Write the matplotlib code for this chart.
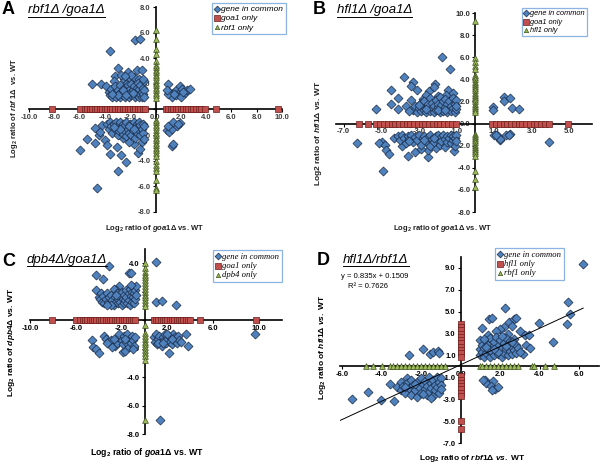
import matplotlib
matplotlib.use('Agg')
import matplotlib.pyplot as plt
from matplotlib.lines import Line2D
from matplotlib.ticker import FormatStrFormatter

plt.rcParams['font.family'] = ['Liberation Sans', 'DejaVu Sans']
plt.rcParams['mathtext.fontset'] = 'custom'
plt.rcParams['mathtext.rm'] = 'Liberation Sans:bold'
plt.rcParams['mathtext.it'] = 'Liberation Sans:italic:bold'
plt.rcParams['mathtext.bf'] = 'Liberation Sans:bold'

# ---- Panel A: rbf1 / goa1 (x = goa1, y = rbf1) ----
a_common = [
    (-5.0, 2.0), (-4.3, 2.0), (-3.9, 1.8), (-3.6, 4.6), (-3.0, 3.2), (-3.2, 2.6), (-3.3, 2.2),
    (-1.6, 5.4), (-1.2, 5.5), (-1.5, 3.1), (-1.1, 3.1), (-2.15, 2.95), (-2.5, 2.4), (-2.0, 2.3),
    (-1.7, 2.5), (-2.3, 2.0), (-1.9, 2.7), (-1.3, 2.4), (-2.7, 2.7), (-2.4, 2.6),
    (-3.7, 1.4), (-3.6, 1.1), (-3.5, 1.6), (-3.4, 1.0), (-3.3, 1.3), (-3.2, 1.8), (-3.1, 1.0),
    (-3.0, 1.5), (-2.9, 1.2), (-2.8, 1.9), (-2.8, 1.0), (-2.7, 1.4), (-2.6, 1.1), (-2.5, 1.7),
    (-2.5, 1.3), (-2.4, 1.0), (-2.3, 1.5), (-2.2, 1.2), (-2.2, 1.9), (-2.1, 1.0), (-2.0, 1.6),
    (-2.0, 1.3), (-1.9, 1.1), (-1.9, 2.0), (-1.8, 1.5), (-1.7, 1.2), (-1.7, 1.8), (-1.6, 1.0),
    (-1.6, 1.4), (-1.5, 1.7), (-1.5, 1.1), (-1.4, 2.1), (-1.4, 1.3), (-1.3, 1.0), (-1.3, 1.6),
    (-1.2, 1.2), (-1.2, 1.9), (-1.1, 1.4), (-1.1, 1.0), (-1.0, 1.7), (-1.0, 1.2), (-0.9, 1.5),
    (-0.9, 1.0), (-0.9, 2.2), (-3.0, 1.1), (-2.6, 1.5), (-2.3, 1.1), (-1.8, 1.3), (-3.4, 1.2),
    (-1.0, 2.4),
    (1.0, 2.0), (1.1, 1.4), (1.2, 1.1), (1.4, 1.3), (1.6, 1.5), (1.8, 1.2), (1.9, 1.8), (2.1, 1.6),
    (2.3, 1.3), (2.5, 1.5), (2.7, 1.6), (1.3, 1.0), (1.6, 1.1), (2.0, 1.0), (2.2, 1.4), (1.0, 1.2),
    (1.5, 1.2), (0.9, 1.5),
    (-6.0, -3.2), (-4.65, -6.1), (-3.0, -4.8), (-2.35, -4.1), (-3.6, -3.5), (-2.7, -3.55),
    (-5.45, -2.3), (-4.8, -2.6), (-4.5, -2.0), (-4.8, -1.45), (-4.4, -1.75), (-4.0, -2.4),
    (-3.85, -2.8), (-3.05, -2.9), (-1.35, -3.4), (-1.25, -3.1), (-1.1, -2.5), (-1.7, -2.7),
    (-4.2, -1.2), (-2.1, -2.5), (-2.6, -2.2),
    (-3.8, -1.1), (-3.7, -1.5), (-3.6, -1.0), (-3.5, -1.3), (-3.4, -1.8), (-3.3, -1.1),
    (-3.2, -1.5), (-3.1, -1.0), (-3.0, -2.0), (-3.0, -1.3), (-2.9, -1.7), (-2.8, -1.0),
    (-2.7, -1.4), (-2.6, -1.9), (-2.6, -1.1), (-2.5, -1.6), (-2.4, -1.2), (-2.3, -2.1),
    (-2.3, -1.0), (-2.2, -1.5), (-2.1, -1.8), (-2.0, -1.1), (-2.0, -1.4), (-1.9, -2.0),
    (-1.8, -1.2), (-1.8, -1.6), (-1.7, -1.0), (-1.6, -1.4), (-1.6, -2.2), (-1.5, -1.1),
    (-1.5, -1.8), (-1.4, -1.3), (-1.3, -1.6), (-1.3, -1.0), (-1.2, -2.0), (-1.2, -1.2),
    (-1.1, -1.5), (-1.0, -1.1), (-1.0, -1.8), (-0.9, -1.3), (-0.9, -2.3), (-2.8, -1.5),
    (-3.3, -1.4), (-2.1, -1.3), (-1.7, -1.5),
    (0.9, -1.6), (1.2, -1.35), (1.5, -1.2), (1.95, -1.05), (1.1, -1.75), (1.3, -1.5), (1.7, -1.3),
    (1.0, -1.3), (1.4, -1.0), (1.3, -2.85), (1.4, -2.7), (1.8, -1.1),
]
a_goa1_only = [-8.2, -6.0, -5.6, -5.4, -5.2, -5.0, -4.8, -4.6, -4.4, -4.2, -4.0, -3.8, -3.6,
               -3.4, -3.2, -3.0, -2.8, -2.6, -2.4, -2.2, -2.0, -1.8, -1.6, -1.4, -1.2, -1.0,
               -0.8, 0.8, 1.0, 1.2, 1.4, 1.6, 1.8, 2.0, 2.2, 2.4, 2.6, 2.8, 3.0, 3.2, 3.4, 3.6,
               3.9, 4.8, 9.7]
a_rbf1_only = [6.2, 5.5, 4.7, 4.3, 3.8, 3.5, 3.3, 3.1, 2.9, 2.7, 2.5, 2.3, 2.1, 1.9, 1.7, 1.5,
               1.3, 1.1, 0.9, -0.8, -1.0, -1.2, -1.4, -1.6, -1.8, -2.0, -2.2, -2.4, -2.6, -2.8,
               -3.0, -3.2, -3.4, -3.6, -4.0, -4.3, -4.6, -4.8, -5.5, -6.1, -6.3]

# ---- Panel B: hfl1 / goa1 (x = goa1, y = hfl1) ----
b_common = [
    (-1.78, 6.0), (-1.36, 4.9), (-3.8, 4.25), (-3.3, 3.8), (-3.4, 3.4), (-4.5, 3.0), (-3.1, 3.0),
    (-4.5, 1.8), (-4.1, 2.3), (-4.1, 1.3), (-5.25, 1.3), (-3.7, 1.6), (-3.4, 2.1), (-2.15, 3.6),
    (-2.45, 2.9), (-1.45, 3.05), (-1.55, 2.6), (-1.2, 2.75), (-2.2, 3.3), (-2.0, 2.5), (-2.8, 2.2),
    (-2.6, 2.6),
    (-3.3, 1.2), (-3.2, 1.6), (-3.1, 1.0), (-3.0, 1.4), (-2.9, 1.9), (-2.9, 1.1), (-2.8, 1.6),
    (-2.7, 1.2), (-2.7, 2.0), (-2.6, 1.0), (-2.5, 1.5), (-2.5, 1.8), (-2.4, 1.1), (-2.4, 2.3),
    (-2.3, 1.4), (-2.3, 1.9), (-2.2, 1.0), (-2.2, 1.6), (-2.1, 2.1), (-2.1, 1.2), (-2.0, 1.5),
    (-2.0, 1.8), (-1.9, 1.0), (-1.9, 2.4), (-1.8, 1.3), (-1.8, 1.7), (-1.7, 2.0), (-1.7, 1.1),
    (-1.6, 1.5), (-1.6, 2.2), (-1.5, 1.0), (-1.5, 1.8), (-1.4, 1.3), (-1.4, 2.0), (-1.3, 1.6),
    (-1.3, 1.1), (-1.2, 2.3), (-1.2, 1.4), (-1.1, 1.0), (-1.1, 1.8), (-1.0, 1.3), (-1.0, 2.1),
    (-1.0, 1.6), (-3.5, 1.1), (-2.6, 1.3), (-2.0, 1.2), (-1.6, 1.2), (-3.0, 1.7),
    (0.94, 1.47), (0.94, 1.2), (1.54, 2.4), (1.54, 2.0), (1.83, 2.35), (1.96, 1.37), (2.3, 1.3),
    (-6.26, -1.8), (-4.96, -1.65), (-5.1, -1.8), (-4.8, -1.9), (-4.75, -2.35), (-4.6, -2.75),
    (-4.9, -4.3), (-3.6, -2.95), (-2.5, -3.0), (-2.5, -2.4), (-3.2, -2.6), (-1.15, -2.45),
    (-4.3, -1.3), (-3.9, -2.0), (-2.9, -2.3), (-2.1, -2.2),
    (-4.1, -1.1), (-4.0, -1.5), (-3.9, -1.0), (-3.8, -1.3), (-3.7, -1.8), (-3.6, -1.1),
    (-3.5, -1.4), (-3.4, -1.0), (-3.3, -1.7), (-3.2, -1.2), (-3.1, -1.5), (-3.0, -1.0),
    (-2.9, -1.9), (-2.8, -1.3), (-2.7, -1.1), (-2.6, -1.6), (-2.5, -1.2), (-2.4, -2.0),
    (-2.4, -1.0), (-2.3, -1.4), (-2.2, -1.7), (-2.1, -1.1), (-2.0, -1.5), (-2.0, -1.0),
    (-1.9, -1.9), (-1.8, -1.2), (-1.8, -1.6), (-1.7, -1.0), (-1.6, -1.4), (-1.6, -2.1),
    (-1.5, -1.1), (-1.5, -1.7), (-1.4, -1.3), (-1.3, -1.0), (-1.3, -1.8), (-1.2, -1.5),
    (-1.2, -1.1), (-1.1, -1.3), (-1.1, -2.0), (-1.0, -1.0), (-1.0, -1.6), (-2.7, -1.5),
    (-3.5, -1.6), (-2.2, -1.3),
    (0.97, -1.0), (1.2, -1.15), (1.3, -1.45), (1.63, -1.0), (1.87, -0.95), (3.9, -1.7),
    (1.33, -1.43), (1.8, -1.0), (1.1, -1.0),
]
b_goa1_only = [-6.2, -5.7, -5.25, -5.05, -4.85, -4.65, -4.45, -4.25, -4.05, -3.85, -3.65, -3.45,
               -3.25, -3.05, -2.85, -2.65, -2.45, -2.25, -2.05, -1.85, -1.65, -1.45, -1.25,
               -1.05, 0.9, 1.1, 1.3, 1.5, 1.7, 1.9, 2.1, 2.3, 2.5, 2.7, 2.9, 3.1, 3.3, 3.5, 3.7,
               3.9, 4.95]
b_hfl1_only = [9.3, 5.9, 5.6, 5.2, 4.9, 4.4, 4.2, 4.0, 3.8, 3.6, 3.4, 3.2, 3.0, 2.8, 2.6, 2.4,
               2.2, 2.0, 1.8, 1.6, 1.4, 1.2, 1.0, -0.9, -1.1, -1.3, -1.5, -1.7, -1.9, -2.1, -2.3,
               -2.5, -2.7, -2.9, -4.3, -5.0, -5.7]

# ---- Panel C: dpb4 / goa1 (x = goa1, y = dpb4) ----
c_common = [
    (-3.1, 3.8), (-4.2, 3.2), (-3.6, 2.9), (-1.4, 3.3), (-1.2, 3.3), (-4.2, 2.1), (-4.0, 1.6),
    (-3.8, 1.9), (-2.2, 2.4), (-2.5, 2.1),
    (1.0, 4.1), (0.98, 1.3), (1.55, 1.37), (2.75, 1.04),
    (-3.9, 1.5), (-3.7, 1.3), (-3.6, 1.7), (-3.5, 1.2), (-3.4, 1.5), (-3.3, 1.9), (-3.2, 1.3),
    (-3.1, 1.6), (-3.0, 1.2), (-2.9, 1.8), (-2.8, 1.4), (-2.7, 2.2), (-2.7, 1.1), (-2.6, 1.6),
    (-2.5, 1.3), (-2.4, 1.9), (-2.3, 1.2), (-2.3, 1.5), (-2.2, 1.7), (-2.1, 1.3), (-2.0, 2.0),
    (-2.0, 1.1), (-1.9, 1.5), (-1.8, 1.8), (-1.8, 1.2), (-1.7, 1.4), (-1.6, 2.1), (-1.6, 1.6),
    (-1.5, 1.2), (-1.4, 1.9), (-1.4, 1.4), (-1.3, 2.2), (-1.3, 1.1), (-1.2, 1.7), (-1.1, 2.0),
    (-1.1, 1.3), (-1.0, 2.3), (-1.0, 1.6), (-0.9, 1.9), (-0.9, 1.2), (-0.8, 2.1), (-0.8, 1.5),
    (-0.75, 2.4), (-0.75, 1.8), (-2.9, 1.1), (-3.3, 1.1), (-2.5, 1.8), (-1.2, 2.5),
    (-4.55, -1.37), (-4.5, -1.9), (-4.2, -2.0), (-3.95, -2.3), (-3.55, -1.1), (-2.6, -1.8),
    (-1.85, -2.25), (-1.7, -2.2), (-3.4, -1.3), (-3.2, -1.5), (-3.0, -1.7), (-2.9, -1.4),
    (-2.8, -1.9), (-2.4, -1.6), (-2.3, -1.2), (-2.2, -1.0), (-2.0, -1.4), (-1.9, -1.7),
    (-1.8, -1.1), (-1.6, -1.5), (-1.5, -1.0), (-1.4, -1.9), (-1.3, -1.3), (-1.2, -1.6),
    (-1.1, -1.1), (-1.0, -1.4), (-0.9, -1.8), (-0.8, -1.2), (-3.3, -1.6), (-2.7, -1.3),
    (-1.7, -1.3), (-1.0, -2.0),
    (0.8, -1.2), (0.9, -1.5), (1.0, -1.0), (1.1, -1.7), (1.2, -1.3), (1.3, -1.1), (1.4, -1.5),
    (1.5, -1.8), (1.6, -1.2), (1.7, -1.4), (1.8, -1.0), (1.9, -1.6), (2.0, -1.3), (2.1, -1.1),
    (2.2, -1.5), (2.3, -1.2), (2.4, -1.7), (2.5, -1.0), (2.6, -1.4), (2.7, -1.2), (2.8, -1.6),
    (2.9, -1.1), (3.0, -1.4), (1.2, -1.6), (1.6, -1.6), (2.0, -1.0), (2.4, -1.3), (3.2, -1.5),
    (3.6, -1.0), (3.8, -1.8), (2.17, -2.3), (9.65, -1.0), (1.35, -7.0),
]
c_goa1_only = [-8.1, -6.0, -5.6, -5.4, -5.2, -5.0, -4.8, -4.6, -4.4, -4.2, -4.0, -3.8, -3.6,
               -3.4, -3.2, -3.0, -2.8, -2.6, -2.4, -2.2, -2.0, -1.8, -1.6, -1.4, -1.2, -1.0,
               -0.8, 0.8, 1.0, 1.2, 1.4, 1.6, 1.8, 2.0, 2.2, 2.4, 2.6, 2.8, 3.0, 3.2, 3.4, 3.6,
               3.8, 4.0, 4.8, 9.7]
c_dpb4_only = [4.0, 3.7, 3.4, 3.2, 3.0, 2.8, 2.6, 2.4, 2.2, 2.0, 1.8, 1.6, 1.4, 1.2, 1.0, -0.35,
               -0.9, -1.1, -1.3, -1.5, -1.7, -1.9, -2.1, -2.3, -2.5, -2.8, -7.0]

# ---- Panel D: hfl1 / rbf1 (x = rbf1, y = hfl1) ----
d_common = [
    (6.17, 9.4), (5.42, 5.9), (5.53, 4.8), (5.38, 3.9), (3.95, 4.0), (4.66, 2.25), (2.27, 5.35),
    (1.46, 4.3), (1.6, 4.4), (1.1, 3.5), (2.47, 4.05), (2.7, 4.3), (2.8, 4.45), (2.6, 3.7),
    (2.98, 3.2), (2.2, 3.6), (2.0, 3.4), (3.28, 2.9), (3.45, 2.9), (3.3, 2.0), (3.5, 1.7),
    (3.18, 1.1), (0.96, 2.45), (1.8, 3.2), (2.4, 3.0), (1.4, 2.9),
    (1.0, 1.0), (1.0, 1.6), (1.1, 2.0), (1.1, 1.3), (1.2, 0.9), (1.2, 1.7), (1.3, 2.3),
    (1.3, 1.2), (1.4, 1.5), (1.4, 2.0), (1.5, 0.9), (1.5, 2.6), (1.6, 1.3), (1.6, 1.8),
    (1.7, 1.0), (1.7, 2.2), (1.8, 1.5), (1.8, 2.7), (1.9, 1.1), (1.9, 1.9), (2.0, 1.4),
    (2.0, 2.4), (2.1, 0.9), (2.1, 1.7), (2.2, 2.1), (2.2, 1.2), (2.3, 1.6), (2.3, 2.6),
    (2.4, 1.0), (2.4, 1.9), (2.5, 1.4), (2.5, 2.3), (2.6, 1.1), (2.6, 1.8), (2.7, 2.5),
    (2.7, 1.5), (2.8, 1.2), (2.8, 2.0), (2.9, 1.7), (3.0, 1.3), (1.2, 2.5), (1.5, 1.5),
    (1.9, 1.3), (2.3, 1.9), (1.7, 1.6), (2.1, 2.8), (1.3, 1.8), (2.6, 2.2),
    (1.21, -1.28), (1.3, -1.5), (1.63, -1.34), (1.55, -1.8), (1.75, -2.04), (1.58, -2.2),
    (1.13, -1.2), (1.9, -1.9),
    (-5.5, -2.95), (-4.68, -2.3), (-4.03, -3.1), (-3.38, -3.17), (-3.55, -1.6), (-3.2, -1.85),
    (-3.0, -1.4), (-2.7, -1.04),
    (-3.0, -2.2), (-2.9, -1.8), (-2.8, -2.4), (-2.7, -1.5), (-2.6, -2.0), (-2.5, -1.2),
    (-2.5, -2.6), (-2.4, -1.7), (-2.3, -2.2), (-2.2, -1.4), (-2.2, -2.8), (-2.1, -1.9),
    (-2.0, -1.1), (-2.0, -2.4), (-1.9, -1.6), (-1.8, -2.1), (-1.8, -1.3), (-1.7, -2.6),
    (-1.7, -1.8), (-1.6, -1.0), (-1.6, -2.3), (-1.5, -1.5), (-1.5, -2.0), (-1.4, -1.2),
    (-1.4, -2.7), (-1.3, -1.7), (-1.3, -2.2), (-1.2, -1.0), (-1.2, -1.9), (-1.1, -1.4),
    (-1.1, -2.4), (-1.0, -1.1), (-1.0, -1.7), (-1.0, -2.1), (-2.8, -1.9), (-2.3, -1.6),
    (-1.9, -2.5), (-1.5, -2.85),
    (-2.6, 1.0), (-1.9, 1.55), (-1.57, 1.16), (-1.4, 1.3), (-1.15, 1.4), (-1.1, 1.2),
]
d_hfl1_only = [3.9, 3.6, 3.3, 3.0, 2.7, 2.4, 2.1, 1.8, 1.5, 1.2, 0.9, -0.9, -1.2, -1.5, -1.8,
               -2.1, -2.4, -2.7, -5.0, -5.7]
d_rbf1_only = [-4.76, -4.43, -4.0, -3.58, -3.4, -3.2, -3.0, -2.8, -2.6, -2.4, -2.2, -2.0, -1.8,
               -1.6, -1.4, -1.2, -1.0, -0.8, 0.96, 1.1, 1.3, 1.5, 1.7, 1.9, 2.1, 2.3, 2.5, 2.7,
               2.9, 3.6, 3.7, 4.27, 4.74]
d_slope, d_intercept = 0.835, 0.1509
d_fit_x = [-6.1, 6.2]

W, H = 600, 465
fig = plt.figure(figsize=(6, 4.65), dpi=100)


def fx(px):
    return px / W


def fy(py):
    return 1 - py / H


def make_axes(l, t, r, b, xlim, ylim, xticks, yticks, tcol):
    ax = fig.add_axes([fx(l), fy(b), fx(r) - fx(l), fy(t) - fy(b)])
    ax.set_xlim(xlim)
    ax.set_ylim(ylim)
    ax.patch.set_visible(False)
    ax.spines['top'].set_visible(False)
    ax.spines['right'].set_visible(False)
    ax.spines['left'].set_position(('data', 0))
    ax.spines['bottom'].set_position(('data', 0))
    ax.spines['left'].set_linewidth(1.2)
    ax.spines['bottom'].set_linewidth(1.2)
    ax.set_xticks(xticks)
    ax.set_yticks(yticks)
    ax.xaxis.set_major_formatter(FormatStrFormatter('%.1f'))
    ax.yaxis.set_major_formatter(FormatStrFormatter('%.1f'))
    ax.tick_params(labelsize=5.5, length=2.5, width=0.8, pad=1, labelcolor=tcol)
    for lab in ax.get_xticklabels() + ax.get_yticklabels():
        lab.set_fontweight('bold')
    return ax


def draw_points(ax, common, sq, tri, labels):
    ax.scatter([p[0] for p in common], [p[1] for p in common], marker='D', s=21,
               c='#4F81BD', edgecolors='#1B2A44', linewidths=0.5, zorder=3, label=labels[0])
    ax.scatter(sq[0], sq[1], marker='s', s=25, c='#C0504D', edgecolors='#6B1E1C',
               linewidths=0.5, zorder=3, label=labels[1])
    ax.scatter(tri[0], tri[1], marker='^', s=17, c='#9BBB59', edgecolors='#3F5220',
               linewidths=0.5, zorder=3, label=labels[2])


def add_legend(ax, x, y, family, size):
    leg = ax.legend(loc='upper left', bbox_to_anchor=(fx(x), fy(y)), bbox_transform=fig.transFigure,
                    borderaxespad=0, borderpad=0.3, handlelength=0.6, handletextpad=0.2,
                    labelspacing=0.15, fancybox=False, framealpha=1, markerscale=0.75,
                    prop={'family': family, 'style': 'italic', 'size': size})
    leg.get_frame().set_edgecolor('#8DB3E2')
    leg.get_frame().set_linewidth(0.9)
    leg.set_zorder(5)


titles = []


def header(letter, lx, ly, title, tx, ty):
    fig.text(fx(lx), fy(ly), letter, fontsize=13, fontweight='bold', va='baseline')
    titles.append(fig.text(fx(tx), fy(ty), title, fontsize=9.5, style='italic', va='baseline'))


def label(x, y, s, size, rot=0, col='black'):
    fig.text(fx(x), fy(y), s, fontsize=size, fontweight='bold', ha='center', va='center',
             rotation=rot, color=col)


# Panel A
axA = make_axes(29, 7, 282, 212, (-10, 10), (-8, 8), range(-10, 11, 2), range(-8, 9, 2), '#404040')
draw_points(axA, a_common, (a_goa1_only, [0] * len(a_goa1_only)),
            ([0] * len(a_rbf1_only), a_rbf1_only), ['gene in common', 'goa1 only', 'rbf1 only'])
add_legend(axA, 212, 3, 'Liberation Sans', 6)
header('A', 2, 14, 'rbf1\u0394 /goa1\u0394', 28, 13.5)
label(155, 228, r'Log$_2$ ratio of $\mathit{goa1\Delta}$ vs. WT', 5.5, col='#222222')
label(15, 108, r'Log$_2$ ratio of $\mathit{rbf\ 1\Delta}$  vs. WT', 5.5, 90, '#222222')

# Panel B
axB = make_axes(336, 13, 592, 212, (-7.4, 6.2), (-8, 10), range(-7, 6, 2), range(-8, 11, 2), '#303030')
draw_points(axB, b_common, (b_goa1_only, [0] * len(b_goa1_only)),
            ([0] * len(b_hfl1_only), b_hfl1_only), ['gene in common', 'goa1 only', 'hfl1 only'])
add_legend(axB, 522, 8, 'Liberation Sans', 5.3)
header('B', 313, 14, 'hfl1\u0394 /goa1\u0394', 337, 13.5)
label(443, 228, r'Log$_2$ ratio of $\mathit{goa1\Delta}$ vs. WT', 5.5, col='#222222')
label(318, 133, r'Log2 ratio of $\mathit{hfl1\Delta}$ vs. WT', 6, 90, '#222222')

# Panel C
axC = make_axes(30, 249, 282, 434, (-10, 12), (-8, 5), range(-10, 11, 4), range(-8, 5, 2), 'black')
draw_points(axC, c_common, (c_goa1_only, [0] * len(c_goa1_only)),
            ([0] * len(c_dpb4_only), c_dpb4_only), ['gene in common', 'goa1 only', 'dpb4 only'])
add_legend(axC, 213, 250, 'Liberation Serif', 6.2)
header('C', 2, 266, 'dpb4\u0394/goa1\u0394', 27, 263)
label(147, 452, r'Log$_2$ ratio of $\mathit{goa1\Delta}$ vs. WT', 6.3)
label(12, 342, r'Log$_2$ ratio of $\mathit{dpb4\Delta}$ vs. WT', 6, 90)

# Panel D
axD = make_axes(340, 257, 599, 443, (-6.1, 7), (-7, 10), range(-6, 7, 2), range(-7, 10, 2), 'black')
draw_points(axD, d_common, ([0] * len(d_hfl1_only), d_hfl1_only),
            (d_rbf1_only, [0] * len(d_rbf1_only)), ['gene in common', 'hfl1 only', 'rbf1 only'])
axD.plot(d_fit_x, [d_slope * v + d_intercept for v in d_fit_x], color='black', lw=0.7, zorder=4)
add_legend(axD, 495, 248, 'Liberation Serif', 6.2)
header('D', 317, 265, 'hfl1\u0394/rbf1\u0394', 343, 263)
fig.text(fx(375), fy(277), 'y = 0.835x + 0.1509', fontsize=5.5, ha='center', va='center')
fig.text(fx(368), fy(287), 'R\u00b2 = 0.7626', fontsize=5.5, ha='center', va='center')
label(472, 458, r'Log$_2$ ratio of $\mathit{rbf1\Delta}$ $\mathit{vs.}$ WT', 6)
label(323, 347, r'Log$_2$ ratio of $\mathit{hfl1\Delta}$ $\mathit{vs.}$ WT', 6, 90)

# underline the panel titles
fig.canvas.draw()
renderer = fig.canvas.get_renderer()
inv = fig.transFigure.inverted()
for t in titles:
    bb = t.get_window_extent(renderer)
    (x0, y0), (x1, _) = inv.transform([(bb.x0, bb.y0), (bb.x1, bb.y1)])
    fig.add_artist(Line2D([x0, x1], [y0 - 0.001, y0 - 0.001], transform=fig.transFigure,
                          color='black', lw=0.7))

fig.savefig('out.png', dpi=100)
